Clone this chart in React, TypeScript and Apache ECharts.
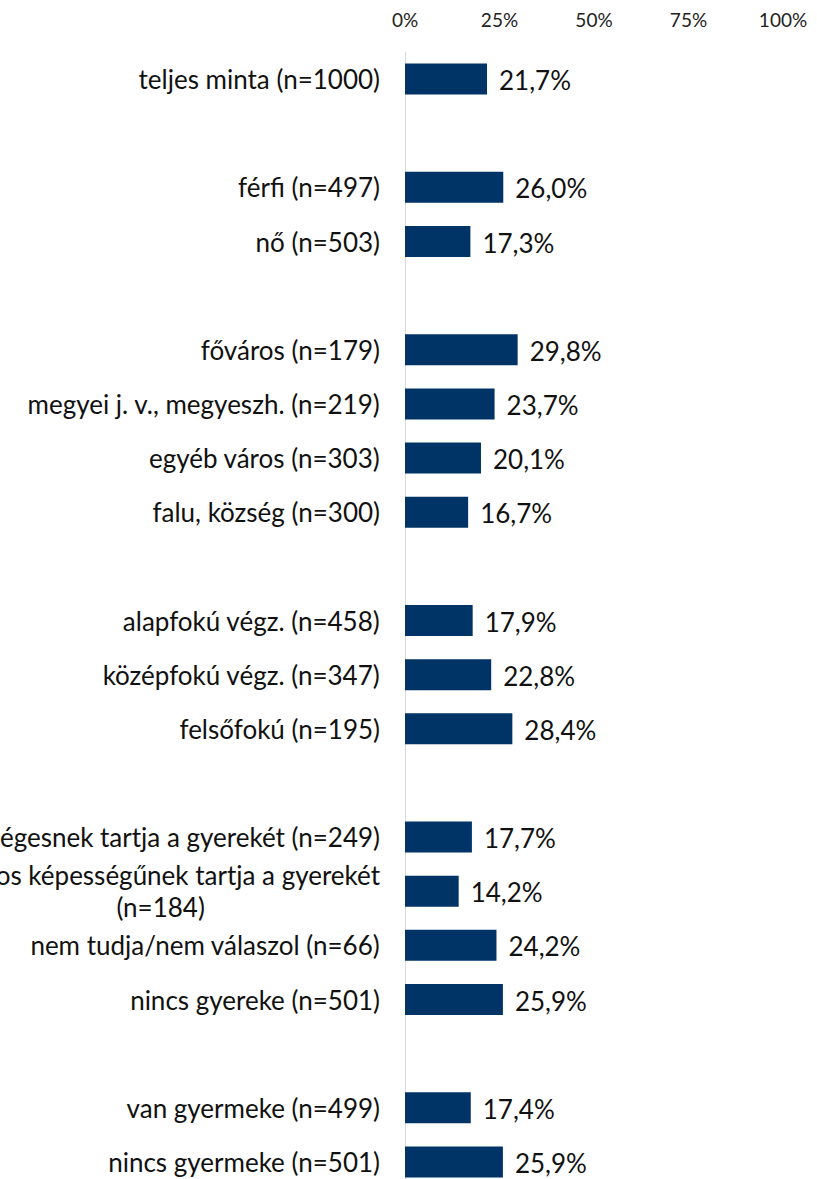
import React, { useEffect, useRef } from "react";
import * as echarts from "echarts";

const categories: string[] = [
  "teljes minta (n=1000)",
  " ",
  "férfi (n=497)",
  "nő (n=503)",
  "  ",
  "főváros (n=179)",
  "megyei j. v., megyeszh. (n=219)",
  "egyéb város (n=303)",
  "falu, község (n=300)",
  "   ",
  "alapfokú végz. (n=458)",
  "középfokú végz. (n=347)",
  "felsőfokú (n=195)",
  "    ",
  "tehetségesnek tartja a gyerekét (n=249)",
  "átlagos képességűnek tartja a gyerekét\n(n=184)",
  "nem tudja/nem válaszol (n=66)",
  "nincs gyereke (n=501)",
  "     ",
  "van gyermeke (n=499)",
  "nincs gyermeke (n=501)",
];

const values: (number | null)[] = [
  21.7, null, 26.0, 17.3, null, 29.8, 23.7, 20.1, 16.7, null, 17.9, 22.8, 28.4, null,
  17.7, 14.2, 24.2, 25.9, null, 17.4, 25.9,
];

const tickLabels: string[] = ["0%", "25%", "50%", "75%", "100%"];

const FONT = "Lato, sans-serif";

export default function App() {
  const ref = useRef<HTMLDivElement>(null);
  useEffect(() => {
    if (!ref.current) return;
    const chart = echarts.init(ref.current, null, { renderer: "svg" });
    chart.setOption({
      animation: false,
      textStyle: { fontFamily: FONT },
      grid: {
        left: 405,
        top: 52,
        width: 378,
        height: 1137,
        containLabel: false,
        outerBoundsMode: "none",
      },
      xAxis: {
        type: "value",
        position: "top",
        min: 0,
        max: 100,
        interval: 25,
        axisLine: { show: false },
        axisTick: { show: false },
        splitLine: { show: false },
        axisLabel: {
          margin: 23,
          fontSize: 19,
          color: "#222",
          fontFamily: FONT,
          formatter: (v: number) => tickLabels[Math.round(v / 25)],
        },
      },
      yAxis: {
        type: "category",
        inverse: true,
        data: categories,
        axisLine: { show: true, lineStyle: { color: "#d9d9d9", width: 1 } },
        axisTick: { show: false },
        axisLabel: {
          margin: 25,
          fontSize: 26,
          color: "#111",
          fontFamily: FONT,
          formatter: (v: string) =>
            v
              .split("\n")
              .map((l) => "{c|" + l + "}")
              .join("\n"),
          rich: {
            c: { align: "center", fontSize: 26, color: "#111", fontFamily: FONT, lineHeight: 32 },
          },
        },
      },
      series: [
        {
          type: "bar",
          data: values,
          barWidth: 31,
          itemStyle: { color: "#003366" },
          label: {
            show: true,
            position: "right",
            distance: 12,
            fontSize: 26,
            color: "#111",
            fontFamily: FONT,
            offset: [0, 1],
            formatter: (p: any) =>
              p.value == null ? "" : Number(p.value).toFixed(1).replace(".", ",") + "%",
          },
        },
      ],
    });
    return () => chart.dispose();
  }, []);
  return (
    <div
      ref={ref}
      style={{ position: "fixed", left: 0, top: 0, width: 817, height: 1179, background: "#fff" }}
    />
  );
}
